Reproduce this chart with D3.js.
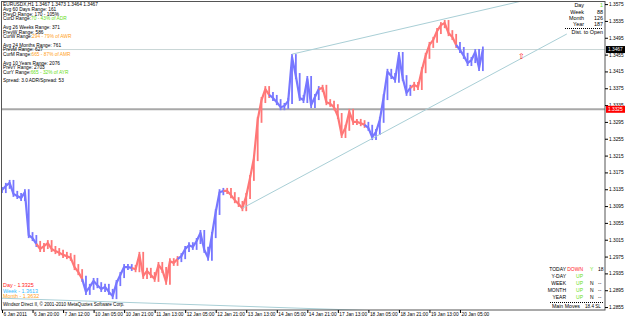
<!DOCTYPE html>
<html>
<head>
<meta charset="utf-8">
<script src="https://cdn.jsdelivr.net/npm/d3@7"></script>
<style>
  body { margin: 0; background: #fff; }
  text { font-family: "Liberation Sans", Arial, sans-serif; }
</style>
</head>
<body>
<div id="chart"></div>
<script>
// EURUSD H1 closes, one value every 2 hourly bars
const closes = [
  1.3133, 1.3143, 1.3150, 1.3124, 1.3119, 1.3114, 1.3128, 1.3026, 1.3019, 1.3005,
  1.2993, 1.3000, 1.3007, 1.2993, 1.2988, 1.2984, 1.2979, 1.2976, 1.2972, 1.2950,
  1.2938, 1.2922, 1.2891, 1.2903, 1.2917, 1.2907, 1.2898, 1.2903, 1.2891, 1.2881,
  1.2912, 1.2931, 1.2950, 1.2950, 1.2948, 1.2945, 1.2979, 1.2929, 1.2941, 1.2931,
  1.2922, 1.2955, 1.2943, 1.2915, 1.2964, 1.2960, 1.2969, 1.2976, 1.2993, 1.3002,
  1.2998, 1.3012, 1.3031, 1.2991, 1.2972, 1.3026, 1.3081, 1.3128, 1.3131, 1.3131,
  1.3121, 1.3109, 1.3100, 1.3090, 1.3119, 1.3162, 1.3209, 1.3300, 1.3347, 1.3373,
  1.3359, 1.3352, 1.3342, 1.3330, 1.3333, 1.3345, 1.3449, 1.3404, 1.3352, 1.3347,
  1.3397, 1.3335, 1.3354, 1.3373, 1.3376, 1.3342, 1.3338, 1.3330, 1.3309, 1.3264,
  1.3281, 1.3319, 1.3295, 1.3295, 1.3292, 1.3288, 1.3281, 1.3259, 1.3271, 1.3300,
  1.3354, 1.3414, 1.3404, 1.3395, 1.3454, 1.3399, 1.3364, 1.3376, 1.3383, 1.3378,
  1.3418, 1.3452, 1.3478, 1.3490, 1.3511, 1.3525, 1.3530, 1.3506, 1.3497, 1.3478,
  1.3466, 1.3452, 1.3435, 1.3442, 1.3461, 1.3423, 1.3467
];
const barStep = 2;
// bar index where each trading day starts (colours alternate per day)
const dayStarts = [0, 19, 43, 69, 93, 117, 142, 167, 191, 215, 239];

const timeLabels = [
  '6 Jan 2011', '6 Jan 20:00', '7 Jan 12:00', '10 Jan 05:00', '10 Jan 21:00',
  '11 Jan 13:00', '12 Jan 05:00', '12 Jan 21:00', '13 Jan 13:00', '14 Jan 05:00',
  '14 Jan 21:00', '17 Jan 13:00', '18 Jan 05:00', '18 Jan 21:00', '19 Jan 13:00',
  '20 Jan 05:00'
];
const labelEvery = 16;
const priceTicks = [
  1.3575, 1.3535, 1.3495, 1.3455, 1.3415, 1.3375, 1.3335, 1.3295, 1.3255, 1.3215,
  1.3175, 1.3135, 1.3095, 1.3055, 1.3015, 1.2975, 1.2935, 1.2895, 1.2855
];
const bidPrice = 1.3467;
const dayOpen = 1.3325;

// trendlines as [bar, price] pairs
const trendLines = [
  [[126, 1.3090], [296, 1.3504]],
  [[152, 1.3456], [316, 1.3628]],
  [[0, 1.2876], [316, 1.2828]]
];
const arrowMark = [272, 1.3450];

const infoGroups = [
  [['EURUSDX,H1  1.3467 1.3473 1.3464 1.3467', '', ''],
   ['Avg 60 Days Range: 161', '', ''],
   ['PrevD Range: 170 - 105%', '', ''],
   ['CurD  Range:', '70 - 43% of ADR', 'green']],
  [['Avg 26 Weeks Range: 371', '', ''],
   ['PrevW Range: 586', '', ''],
   ['CurW  Range:', '294 - 79% of AWR', 'orange']],
  [['Avg 24 Months Range: 761', '', ''],
   ['PrevM Range: 627', '', ''],
   ['CurM  Range:', '665 - 87% of AMR', 'orange']],
  [['Avg 10 Years Range: 2076', '', ''],
   ['PrevY Range: 2703', '', ''],
   ['CurY  Range:', '665 - 32% of AYR', 'green']],
  [['Spread: 3.0 ADR/Spread: 53', '', '']]
];
const distRows = [['Day', '1', 'green'], ['Week', '88', 'black'], ['Month', '126', 'black'], ['Year', '187', 'black']];
const moveRows = [
  ['TODAY', 'DOWN', 'Y', '18'],
  ['Y-DAY', 'UP', '', ''],
  ['WEEK', 'UP', 'N', '--'],
  ['MONTH', 'UP', 'N', '--'],
  ['YEAR', 'UP', 'N', '--']
];
const levelRows = [['Day    - 1.3325', 'red'], ['Week - 1.3613', 'blue'], ['Month - 1.3632', 'orange']];

const colors = {
  up: '#7777ff', down: '#ff7777', green: '#66dd22', orange: '#ffa020',
  red: '#ff2020', blue: '#33bbff', black: '#000', trend: '#a9cfd6'
};

const W = 625, H = 319;
const plot = { left: 2, right: 605, top: 2, bottom: 310 };

const svg = d3.select('#chart').append('svg')
  .attr('width', W).attr('height', H)
  .style('background', '#fff');

const x = d3.scaleLinear().domain([0, 316]).range([plot.left, plot.right]);
const y = d3.scaleLinear().domain([1.2848, 1.3580]).range([plot.bottom, plot.top]);

svg.append('clipPath').attr('id', 'clip')
  .append('rect').attr('x', plot.left).attr('y', plot.top)
  .attr('width', plot.right - plot.left).attr('height', plot.bottom - plot.top);

const g = svg.append('g').attr('clip-path', 'url(#clip)');

// horizontal level lines
g.append('line').attr('x1', plot.left).attr('x2', plot.right)
  .attr('y1', y(bidPrice)).attr('y2', y(bidPrice))
  .attr('stroke', '#c9d6d6').attr('stroke-width', 1);
g.append('line').attr('x1', plot.left).attr('x2', plot.right)
  .attr('y1', y(dayOpen)).attr('y2', y(dayOpen))
  .attr('stroke', '#a8a8a8').attr('stroke-width', 2);

// price series, coloured by trading day
const dayOf = (bar) => d3.bisectRight(dayStarts, bar) - 1;
const colorOf = (i) => (dayOf(i * barStep) % 2 === 0 ? colors.up : colors.down);
const pts = closes.map((c, i) => ({ i, c, prev: i ? closes[i - 1] : c }));

// hourly bar wicks
g.selectAll('line.bar')
  .data(pts)
  .join('line')
  .attr('class', 'bar')
  .attr('x1', (d) => x(d.i * barStep)).attr('x2', (d) => x(d.i * barStep))
  .attr('y1', (d) => y(Math.max(d.c, d.prev)) - 3)
  .attr('y2', (d) => y(Math.min(d.c, d.prev)) + 3)
  .attr('stroke', (d) => colorOf(d.i))
  .attr('stroke-width', 1.8);

// close line per day
const days = d3.groups(pts, (d) => dayOf(d.i * barStep));
const closeLine = d3.line().x((d) => x(d.i * barStep)).y((d) => y(d.c));
g.selectAll('path.day')
  .data(days)
  .join('path')
  .attr('class', 'day')
  .attr('d', ([k, arr]) => closeLine(arr[0].i ? [pts[arr[0].i - 1], ...arr] : arr))
  .attr('fill', 'none')
  .attr('stroke', ([k]) => (k % 2 === 0 ? colors.up : colors.down))
  .attr('stroke-width', 2.2)
  .attr('stroke-linejoin', 'round');

// trendlines
const tl = d3.line().x((d) => x(d[0])).y((d) => y(d[1]));
g.selectAll('path.trend')
  .data(trendLines)
  .join('path')
  .attr('class', 'trend')
  .attr('d', tl)
  .attr('fill', 'none')
  .attr('stroke', colors.trend)
  .attr('stroke-width', 1);

g.append('text')
  .attr('x', x(arrowMark[0])).attr('y', y(arrowMark[1]))
  .attr('text-anchor', 'middle').attr('dominant-baseline', 'middle')
  .attr('font-size', 8).attr('fill', colors.red)
  .text('⇧');

// frame
svg.append('rect')
  .attr('x', plot.left - 0.5).attr('y', plot.top - 0.5)
  .attr('width', plot.right - plot.left + 0.5).attr('height', plot.bottom - plot.top + 0.5)
  .attr('fill', 'none').attr('stroke', '#555').attr('stroke-width', 1);

// axes
const xAxis = d3.axisBottom(x)
  .tickValues(timeLabels.map((t, i) => i * labelEvery))
  .tickFormat((d, i) => timeLabels[i])
  .tickSize(3);
const xg = svg.append('g').attr('transform', `translate(0, ${plot.bottom})`).call(xAxis);
xg.select('.domain').remove();
xg.selectAll('text').attr('font-size', 4.8).attr('text-anchor', 'start')
  .attr('dx', 1).attr('y', 2.5).attr('fill', '#000');

const yAxis = d3.axisRight(y).tickValues(priceTicks).tickFormat(d3.format('.4f')).tickSize(3);
const yg = svg.append('g').attr('transform', `translate(${plot.right}, 0)`).call(yAxis);
yg.select('.domain').remove();
yg.selectAll('text').attr('font-size', 4.8).attr('x', 4).attr('fill', '#000');

// price boxes on the axis
const boxes = [[bidPrice, '#000'], [dayOpen, '#ff0000']];
boxes.forEach(([p, c]) => {
  svg.append('rect').attr('x', plot.right + 1).attr('y', y(p) - 3.5)
    .attr('width', 19).attr('height', 7).attr('fill', c);
  svg.append('text').attr('x', plot.right + 3).attr('y', y(p))
    .attr('dominant-baseline', 'middle').attr('font-size', 4.8).attr('fill', '#fff')
    .text(d3.format('.4f')(p));
});

// top-left info block
let ty = 5;
infoGroups.forEach((grp) => {
  grp.forEach(([lab, val, col]) => {
    const t = svg.append('text').attr('x', 3).attr('y', ty)
      .attr('dominant-baseline', 'middle').attr('font-size', 4.8).attr('fill', '#000');
    t.append('tspan').text(lab);
    if (val) t.append('tspan').attr('fill', colors[col]).text(val);
    ty += 4.8;
  });
  ty += 3.5;
});

// top-right distance panel
distRows.forEach(([lab, val, col], i) => {
  const yy = 6 + i * 6.1;
  svg.append('text').attr('x', 584).attr('y', yy).attr('text-anchor', 'end')
    .attr('dominant-baseline', 'middle').attr('font-size', 5.4).text(lab);
  svg.append('text').attr('x', 603).attr('y', yy).attr('text-anchor', 'end')
    .attr('dominant-baseline', 'middle').attr('font-size', 5.4).attr('fill', colors[col]).text(val);
});
svg.append('line').attr('x1', 565).attr('x2', 603).attr('y1', 28.5).attr('y2', 28.5)
  .attr('stroke', '#000').attr('stroke-dasharray', '1,1');
svg.append('text').attr('x', 603).attr('y', 33).attr('text-anchor', 'end')
  .attr('dominant-baseline', 'middle').attr('font-size', 5.4).text('Dist. to Open');

// bottom-right main moves panel
moveRows.forEach(([lab, dir, f, n], i) => {
  const yy = 270 + i * 6.9;
  svg.append('text').attr('x', 566).attr('y', yy).attr('text-anchor', 'end')
    .attr('dominant-baseline', 'middle').attr('font-size', 5).text(lab);
  svg.append('text').attr('x', 583).attr('y', yy).attr('text-anchor', 'end')
    .attr('dominant-baseline', 'middle').attr('font-size', 5)
    .attr('fill', dir === 'UP' ? colors.green : colors.red).text(dir);
  svg.append('text').attr('x', 590).attr('y', yy)
    .attr('dominant-baseline', 'middle').attr('font-size', 5)
    .attr('fill', f === 'Y' ? colors.green : '#000').text(f);
  svg.append('text').attr('x', 598).attr('y', yy)
    .attr('dominant-baseline', 'middle').attr('font-size', 5).text(n);
});
svg.append('line').attr('x1', 550).attr('x2', 604).attr('y1', 302.5).attr('y2', 302.5)
  .attr('stroke', '#000').attr('stroke-dasharray', '1,1');
svg.append('text').attr('x', 552).attr('y', 307).attr('dominant-baseline', 'middle')
  .attr('font-size', 5.2).text('Main Moves');
svg.append('text').attr('x', 585).attr('y', 307).attr('dominant-baseline', 'middle')
  .attr('font-size', 4.6).text('18.4 SL');

// bottom-left levels
levelRows.forEach(([t, c], i) => {
  svg.append('text').attr('x', 3).attr('y', 286 + i * 5.4)
    .attr('dominant-baseline', 'middle').attr('font-size', 5.4)
    .attr('fill', colors[c]).text(t);
});
svg.append('text').attr('x', 3).attr('y', 305).attr('dominant-baseline', 'middle')
  .attr('font-size', 4.6).attr('fill', '#000')
  .text('Windsor Direct II, © 2001-2010 MetaQuotes Software Corp.');
</script>
</body>
</html>
